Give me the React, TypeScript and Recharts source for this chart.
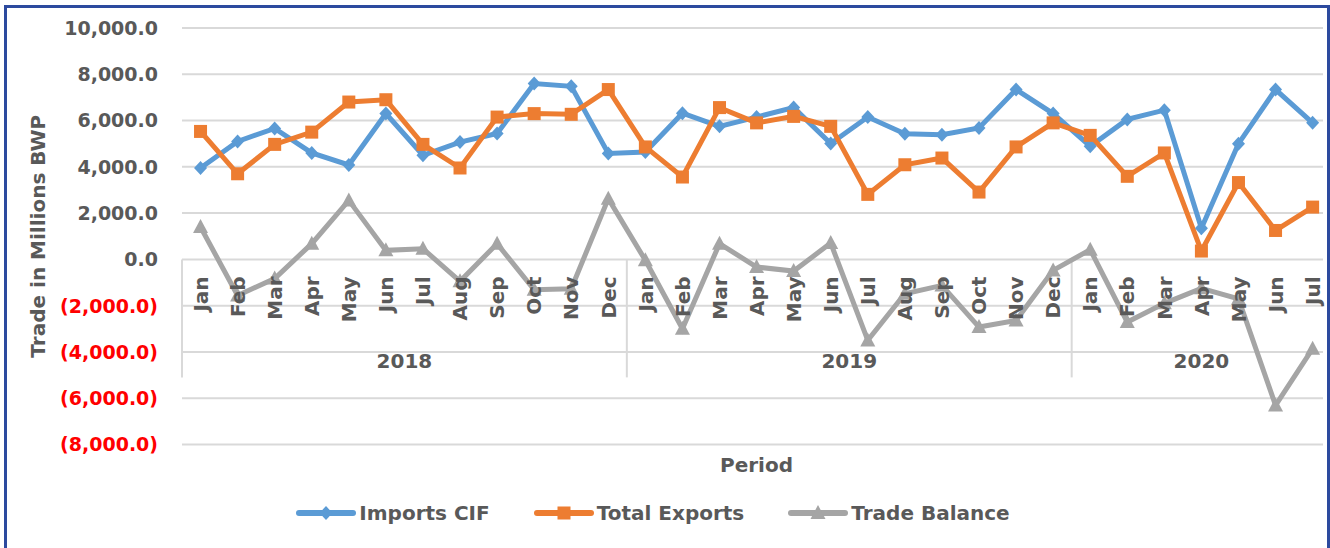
import React from 'react';
import {
  LineChart, Line, XAxis, YAxis, CartesianGrid, Legend, ReferenceLine, ReferenceDot,
} from 'recharts';

// ---------- DATA ----------
const months = [
  'Jan', 'Feb', 'Mar', 'Apr', 'May', 'Jun', 'Jul', 'Aug', 'Sep', 'Oct', 'Nov', 'Dec',
  'Jan', 'Feb', 'Mar', 'Apr', 'May', 'Jun', 'Jul', 'Aug', 'Sep', 'Oct', 'Nov', 'Dec',
  'Jan', 'Feb', 'Mar', 'Apr', 'May', 'Jun', 'Jul',
];
const years = ['2018', '2019', '2020'];
const monthsPerYear = [12, 12, 7];

const importsCIF = [
  3950, 5100, 5660, 4600, 4080, 6300, 4500, 5070, 5440, 7600, 7480, 4580,
  4640, 6320, 5750, 6150, 6560, 5010, 6150, 5430, 5390, 5680, 7340, 6300,
  4890, 6050, 6450, 1350, 5000, 7340, 5900,
];
const totalExports = [
  5530, 3700, 4970, 5500, 6800, 6900, 4970, 3950, 6150, 6300, 6270, 7340,
  4860, 3560, 6560, 5900, 6180, 5750, 2810, 4090, 4380, 2910, 4860, 5900,
  5360, 3590, 4600, 360, 3320, 1250, 2260,
];
const tradeBalance = [
  1400, -1560, -830, 680, 2550, 390, 460, -950, 680, -1310, -1270, 2625,
  -40, -3000, 680, -330, -505, 705, -3500, -1485, -1125, -2925, -2640, -475,
  420, -2710, -1900, -1250, -1700, -6310, -3860,
];
const yTicks = [-8000, -6000, -4000, -2000, 0, 2000, 4000, 6000, 8000, 10000];

// ---------- LAYOUT ----------
const W = 1330;
const H = 548;
const PLOT_LEFT = 182;
const PLOT_RIGHT = 1323;
const PLOT_TOP = 28;
const PLOT_BOTTOM = 444.5;
const Y_MIN = -8000;
const Y_MAX = 10000;
const X_MAX = 30.28;
const Y_AXIS_W = 170;
const ZERO_Y = PLOT_TOP + ((Y_MAX - 0) / (Y_MAX - Y_MIN)) * (PLOT_BOTTOM - PLOT_TOP);
const SEP_BOTTOM = -5100; // bottom of category band (data units)
const YEAR_LABEL_Y = -4370;

const FONT = '"DejaVu Sans", sans-serif';
const TEXT_GRAY = '#595959';
const GRID = '#D9D9D9';

const data = months.map((m, i) => ({
  idx: i,
  month: m,
  imports: importsCIF[i],
  exports: totalExports[i],
  balance: tradeBalance[i],
}));

const yearGroups = (() => {
  const out: { year: string; start: number; end: number }[] = [];
  let s = 0;
  years.forEach((y, k) => {
    out.push({ year: y, start: s - 0.5, end: s + monthsPerYear[k] - 0.5 });
    s += monthsPerYear[k];
  });
  return out;
})();

// ---------- MARKERS ----------
const Diamond = (props: any) => {
  const { cx, cy, fill } = props;
  if (cx == null || cy == null) return null;
  return <polygon points={`${cx},${cy - 7} ${cx + 6.5},${cy} ${cx},${cy + 7} ${cx - 6.5},${cy}`} fill={fill} />;
};
const Square = (props: any) => {
  const { cx, cy, fill } = props;
  if (cx == null || cy == null) return null;
  return <rect x={cx - 6.5} y={cy - 6.5} width={13} height={13} fill={fill} />;
};
const Triangle = (props: any) => {
  const { cx, cy, fill } = props;
  if (cx == null || cy == null) return null;
  return <polygon points={`${cx},${cy - 8} ${cx + 7.5},${cy + 6} ${cx - 7.5},${cy + 6}`} fill={fill} />;
};

const series = [
  { key: 'imports', name: 'Imports CIF', color: '#5B9BD5', Shape: Diamond },
  { key: 'exports', name: 'Total Exports', color: '#ED7D31', Shape: Square },
  { key: 'balance', name: 'Trade Balance', color: '#A5A5A5', Shape: Triangle },
];

// ---------- TICKS / LABELS ----------
const fmt = (v: number) =>
  v.toLocaleString('en-US', { minimumFractionDigits: 1, maximumFractionDigits: 1 });

const YTick = (props: any) => {
  const { x, y, payload } = props;
  const v = payload.value as number;
  const neg = v < 0;
  return (
    <text x={x} y={y} dy="0.36em" textAnchor="end" fontFamily={FONT} fontWeight="bold" fontSize={19}
      fill={neg ? '#FF0000' : TEXT_GRAY}>
      {neg ? `(${fmt(-v)})` : fmt(v)}
    </text>
  );
};

const MonthTick = (props: any) => {
  const { x, payload } = props;
  const label = months[payload.value];
  return (
    <g transform={`translate(${x},${ZERO_Y + 17}) rotate(-90)`}>
      <text x={0} y={0} dy="0.36em" textAnchor="end" fontFamily={FONT} fontWeight="bold" fontSize={20} fill={TEXT_GRAY}>
        {label}
      </text>
    </g>
  );
};

const YTitle = (props: any) => {
  const vb = props.viewBox || {};
  const cx = 38;
  const cy = (vb.y ?? PLOT_TOP) + (vb.height ?? PLOT_BOTTOM - PLOT_TOP) / 2;
  return (
    <text x={cx} y={cy} transform={`rotate(-90 ${cx} ${cy})`} textAnchor="middle" dominantBaseline="central"
      fontFamily={FONT} fontWeight="bold" fontSize={20} fill={TEXT_GRAY}>
      Trade in Millions BWP
    </text>
  );
};

const XTitle = () => (
  <text x={(PLOT_LEFT + 1331) / 2} y={465} textAnchor="middle" dominantBaseline="central"
    fontFamily={FONT} fontWeight="bold" fontSize={20} fill={TEXT_GRAY}>
    Period
  </text>
);

const LegendContent = () => (
  <div style={{ display: 'flex', justifyContent: 'center', alignItems: 'center', fontFamily: FONT }}>
    {series.map((s, i) => (
      <div key={s.key} style={{ display: 'flex', alignItems: 'center', marginRight: i < series.length - 1 ? 44 : 0 }}>
        <svg width={60} height={20} style={{ display: 'block' }}>
          <line x1={3} y1={10} x2={57} y2={10} stroke={s.color} strokeWidth={6} strokeLinecap="round" />
          <s.Shape cx={30} cy={10} fill={s.color} />
        </svg>
        <span style={{ marginLeft: 3, fontWeight: 'bold', fontSize: 20, color: TEXT_GRAY, whiteSpace: 'nowrap' }}>
          {s.name}
        </span>
      </div>
    ))}
  </div>
);

export default function App() {
  return (
    <div style={{ position: 'absolute', left: 0, top: 0, width: W, height: H, background: '#fff', overflow: 'hidden' }}>
      <LineChart
        width={W}
        height={H}
        data={data}
        margin={{ top: PLOT_TOP, right: W - PLOT_RIGHT, bottom: H - PLOT_BOTTOM - 1, left: PLOT_LEFT - Y_AXIS_W }}
      >
        <CartesianGrid horizontal vertical={false} stroke={GRID} strokeWidth={2} />
        <XAxis
          dataKey="idx"
          type="number"
          domain={[-0.5, X_MAX]}
          ticks={months.map((_, i) => i)}
          interval={0}
          axisLine={false}
          tickLine={false}
          tickSize={0}
          tickMargin={0}
          height={1}
          tick={<MonthTick />}
          label={<XTitle />}
          allowDataOverflow
        />
        <YAxis
          type="number"
          domain={[Y_MIN, Y_MAX]}
          ticks={yTicks}
          interval={0}
          axisLine={false}
          tickLine={false}
          tickSize={0}
          tickMargin={24}
          width={Y_AXIS_W}
          tick={<YTick />}
          label={<YTitle />}
        />
        {yearGroups.map((g) => (
          <ReferenceLine key={`sep-${g.year}`} ifOverflow="visible" stroke={GRID} strokeWidth={2}
            segment={[{ x: g.start, y: 0 }, { x: g.start, y: SEP_BOTTOM }]} />
        ))}
        {yearGroups.map((g) => (
          <ReferenceDot key={`yr-${g.year}`} x={(g.start + g.end) / 2} y={YEAR_LABEL_Y} r={0} fill="none" stroke="none"
            label={{ value: g.year, position: 'center', fill: TEXT_GRAY, fontSize: 20, fontWeight: 'bold', fontFamily: FONT }} />
        ))}
        {series.map((s) => (
          <Line
            key={s.key}
            type="linear"
            dataKey={s.key}
            name={s.name}
            stroke={s.color}
            strokeWidth={5}
            dot={<s.Shape fill={s.color} />}
            activeDot={false}
            isAnimationActive={false}
          />
        ))}
        <Legend
          layout="horizontal"
          verticalAlign="middle"
          align="center"
          content={<LegendContent />}
          wrapperStyle={{ top: 501, left: 0, width: 1306, height: 24 }}
        />
      </LineChart>
      <div style={{ position: 'absolute', left: 4, top: 5, width: W - 4, height: H + 20, boxSizing: 'border-box', border: '3px solid #2C4A9E', pointerEvents: 'none' }} />
    </div>
  );
}
